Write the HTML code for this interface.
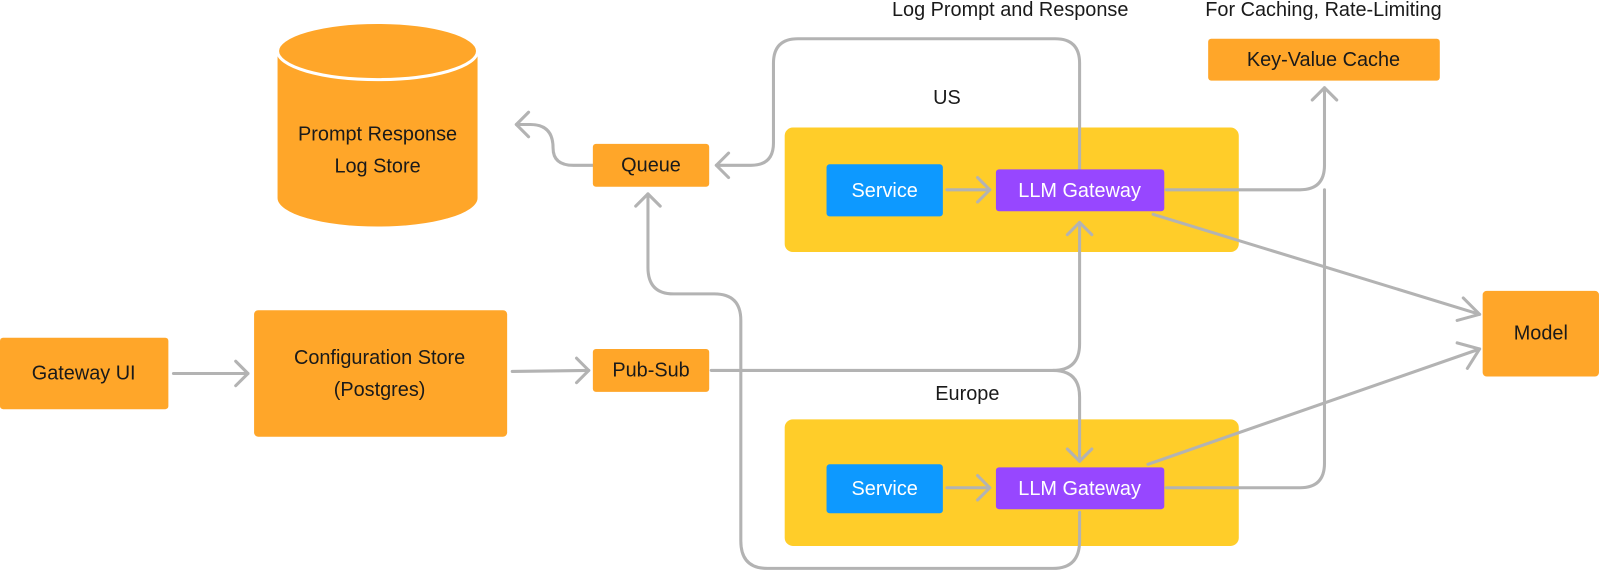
<!DOCTYPE html>
<html><head><meta charset="utf-8"><style>
html,body{margin:0;padding:0;background:#fff;overflow:hidden;}
svg{display:block;}
text{font-family:"Liberation Sans",Arial,sans-serif;font-size:19.5px;fill:#1a1a1a;text-anchor:middle;dominant-baseline:central;}
.w{fill:#fff;}
.l{fill:none;stroke:#b3b3b3;stroke-width:3;stroke-linecap:round;stroke-linejoin:round;}
</style></head><body>
<svg width="1600" height="574" viewBox="0 0 1568 562.5" preserveAspectRatio="none">
<path d="M272 50 V194 A98 28 0 0 0 468 194 V50 Z" fill="#ffa629"/>
<ellipse cx="370" cy="50" rx="98" ry="28" fill="#ffa629" stroke="#fff" stroke-width="3"/>
<text x="370" y="132">Prompt Response</text>
<text x="370" y="163">Log Store</text>

<rect x="769" y="125" width="445" height="122" rx="8" fill="#ffcd29"/>
<rect x="769" y="411" width="445" height="124" rx="8" fill="#ffcd29"/>
<text x="928" y="96">US</text>
<text x="948" y="386">Europe</text>
<text x="990" y="10">Log Prompt and Response</text>
<text x="1297" y="10">For Caching, Rate-Limiting</text>

<path class="l" d="M581 162 H562 Q542 162 542 145 Q542 122 520 122 H506"/>
<path class="l" d="M518 110 L506 122 L518 134"/>
<path class="l" d="M1058 166 V62 Q1058 38 1034 38 H782 Q758 38 758 62 V140 Q758 162 736 162 H702"/>
<path class="l" d="M714 150 L702 162 L714 174"/>
<path class="l" d="M635 190 V262 Q635 288 660 288 H700 Q726 288 726 314 V530 Q726 557 752 557 H1032 Q1058 557 1058 530 V502"/>
<path class="l" d="M623 202 L635 190 L647 202"/>
<path class="l" d="M697 363 H1032 Q1058 363 1058 337 V218"/>
<path class="l" d="M1046 230 L1058 218 L1070 230"/>
<path class="l" d="M1032 363 Q1058 363 1058 389 V452"/>
<path class="l" d="M1046 440 L1058 452 L1070 440"/>
<path class="l" d="M928 186 H970"/><path class="l" d="M958 174 L970 186 L958 198"/>
<path class="l" d="M928 478 H970"/><path class="l" d="M958 466 L970 478 L958 490"/>
<path class="l" d="M1143 186 H1274 Q1298 186 1298 162 V86"/>
<path class="l" d="M1143 478 H1274 Q1298 478 1298 454 V186"/>
<path class="l" d="M1286 98 L1298 86 L1310 98"/>
<path class="l" d="M1130 210 L1450 308"/>
<path class="l" d="M1434 292 L1450 308 L1428 314"/>
<path class="l" d="M1125 455 L1450 342"/>
<path class="l" d="M1428 336 L1450 342 L1438 361"/>
<path class="l" d="M170 366 H243"/><path class="l" d="M231 354 L243 366 L231 378"/>
<path class="l" d="M502 364 L577 363"/><path class="l" d="M565 351 L577 363 L565 375"/>

<rect x="581" y="141" width="114" height="42" rx="3" fill="#ffa629"/><text x="638" y="162">Queue</text>
<rect x="810" y="161" width="114" height="51" rx="3" fill="#0d99ff"/><text class="w" x="867" y="187">Service</text>
<rect x="976" y="166" width="165" height="41" rx="3" fill="#9747ff"/><text class="w" x="1058" y="187">LLM Gateway</text>
<rect x="1184" y="38" width="227" height="41" rx="3" fill="#ffa629"/><text x="1297" y="59">Key-Value Cache</text>
<rect x="1453" y="285" width="114" height="84" rx="4" fill="#ffa629"/><text x="1510" y="327">Model</text>
<rect x="0" y="331" width="165" height="70" rx="3" fill="#ffa629"/><text x="82" y="366">Gateway UI</text>
<rect x="249" y="304" width="248" height="124" rx="4" fill="#ffa629"/><text x="372" y="351">Configuration Store</text><text x="372" y="382">(Postgres)</text>
<rect x="581" y="342" width="114" height="42" rx="3" fill="#ffa629"/><text x="638" y="363">Pub-Sub</text>
<rect x="810" y="455" width="114" height="48" rx="3" fill="#0d99ff"/><text class="w" x="867" y="479">Service</text>
<rect x="976" y="458" width="165" height="41" rx="3" fill="#9747ff"/><text class="w" x="1058" y="479">LLM Gateway</text>
</svg>
</body></html>
